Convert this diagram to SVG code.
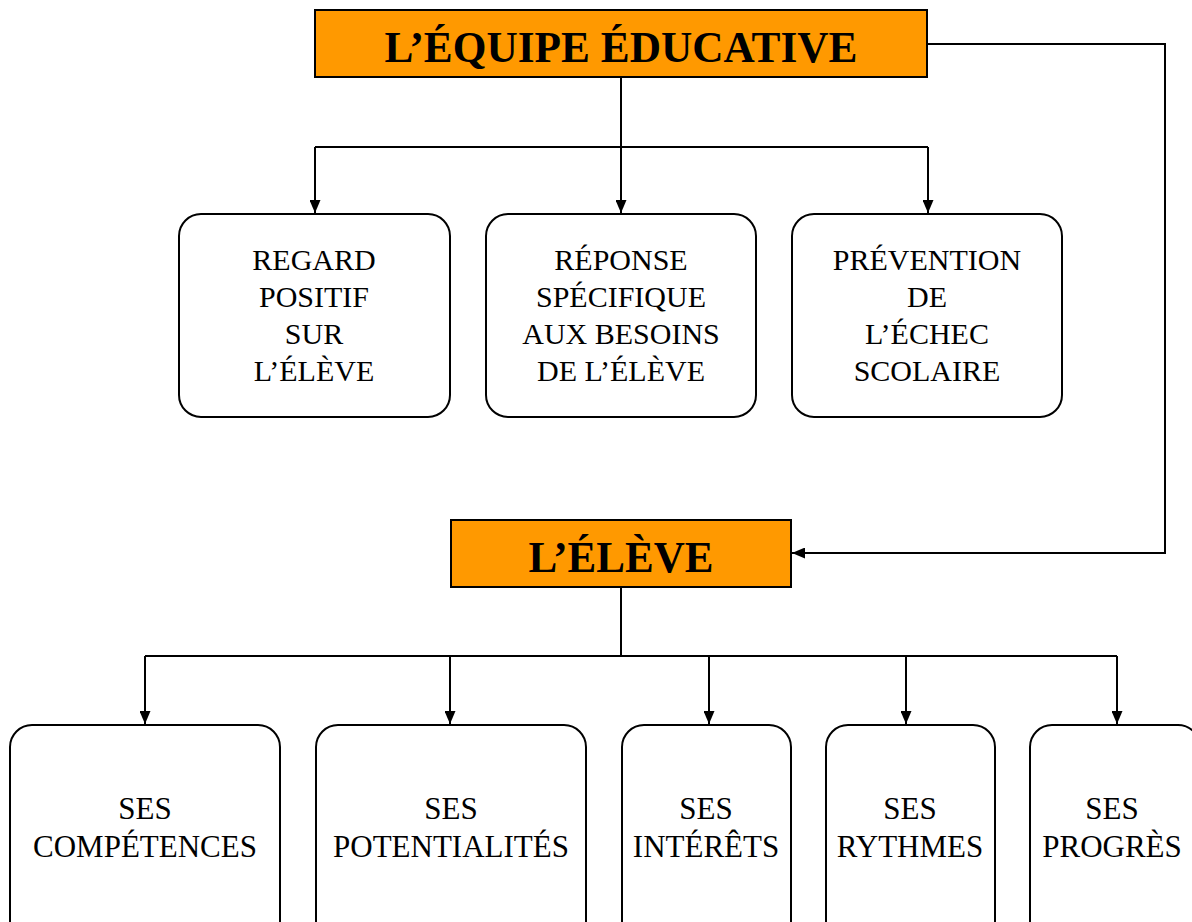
<svg xmlns="http://www.w3.org/2000/svg" width="1192" height="922" viewBox="0 0 1192 922">
<defs>
<style>
.hdr{fill:#FF9900;stroke:#000;stroke-width:2}
.box{fill:#fff;stroke:#000;stroke-width:2}
.t{font-family:"Liberation Serif","Times New Roman",serif;font-size:30px;text-anchor:middle;fill:#000}
.b{font-size:31px}
.h{font-family:"Liberation Serif","Times New Roman",serif;font-size:44px;font-weight:bold;text-anchor:middle;fill:#000}
.c{fill:none;stroke:#000;stroke-width:2}
</style>
<marker id="ah" viewBox="0 0 13 11" refX="13" refY="5.5" markerWidth="13" markerHeight="11" markerUnits="userSpaceOnUse" orient="auto">
<path d="M0,0 L13,5.5 L0,11 Z" fill="#000"/>
</marker>
</defs>
<rect width="1192" height="922" fill="#fff"/>
<g id="connectors">
<path class="c" d="M621,77 V147"/>
<path class="c" d="M315,147 H928"/>
<path class="c" d="M315,147 V213" marker-end="url(#ah)"/>
<path class="c" d="M621,147 V213" marker-end="url(#ah)"/>
<path class="c" d="M928,147 V213" marker-end="url(#ah)"/>
<path class="c" d="M927,44 H1165 V553 H792" marker-end="url(#ah)"/>
<path class="c" d="M621,587 V656"/>
<path class="c" d="M145,656 H1117"/>
<path class="c" d="M145,656 V724" marker-end="url(#ah)"/>
<path class="c" d="M450,656 V724" marker-end="url(#ah)"/>
<path class="c" d="M709,656 V724" marker-end="url(#ah)"/>
<path class="c" d="M906,656 V724" marker-end="url(#ah)"/>
<path class="c" d="M1117,656 V724" marker-end="url(#ah)"/>
</g>
<g id="equipe">
<rect class="hdr" x="315" y="10" width="612" height="67"/>
<text class="h" x="621" y="62" textLength="473" lengthAdjust="spacingAndGlyphs">L’ÉQUIPE ÉDUCATIVE</text>
</g>
<g id="regard">
<rect class="box" x="179" y="214" width="271" height="203" rx="22"/>
<text class="t" x="314" y="270">REGARD</text>
<text class="t" x="314" y="307">POSITIF</text>
<text class="t" x="314" y="344">SUR</text>
<text class="t" x="314" y="381">L’ÉLÈVE</text>
</g>
<g id="reponse">
<rect class="box" x="486" y="214" width="270" height="203" rx="22"/>
<text class="t" x="621" y="270">RÉPONSE</text>
<text class="t" x="621" y="307">SPÉCIFIQUE</text>
<text class="t" x="621" y="344">AUX BESOINS</text>
<text class="t" x="621" y="381">DE L’ÉLÈVE</text>
</g>
<g id="prevention">
<rect class="box" x="792" y="214" width="270" height="203" rx="22"/>
<text class="t" x="927" y="270">PRÉVENTION</text>
<text class="t" x="927" y="307">DE</text>
<text class="t" x="927" y="344">L’ÉCHEC</text>
<text class="t" x="927" y="381">SCOLAIRE</text>
</g>
<g id="eleve">
<rect class="hdr" x="451" y="520" width="340" height="67"/>
<text class="h" x="621" y="572" textLength="185" lengthAdjust="spacingAndGlyphs">L’ÉLÈVE</text>
</g>
<g id="competences">
<rect class="box" x="10" y="725" width="270" height="220" rx="22"/>
<text class="t b" x="145" y="819">SES</text>
<text class="t b" x="145" y="857">COMPÉTENCES</text>
</g>
<g id="potentialites">
<rect class="box" x="316" y="725" width="270" height="220" rx="22"/>
<text class="t b" x="451" y="819">SES</text>
<text class="t b" x="451" y="857">POTENTIALITÉS</text>
</g>
<g id="interets">
<rect class="box" x="622" y="725" width="169" height="220" rx="22"/>
<text class="t b" x="706" y="819">SES</text>
<text class="t b" x="706" y="857">INTÉRÊTS</text>
</g>
<g id="rythmes">
<rect class="box" x="826" y="725" width="169" height="220" rx="22"/>
<text class="t b" x="910" y="819">SES</text>
<text class="t b" x="910" y="857">RYTHMES</text>
</g>
<g id="progres">
<rect class="box" x="1030" y="725" width="170" height="220" rx="22"/>
<text class="t b" x="1112" y="819">SES</text>
<text class="t b" x="1112" y="857">PROGRÈS</text>
</g>
</svg>
